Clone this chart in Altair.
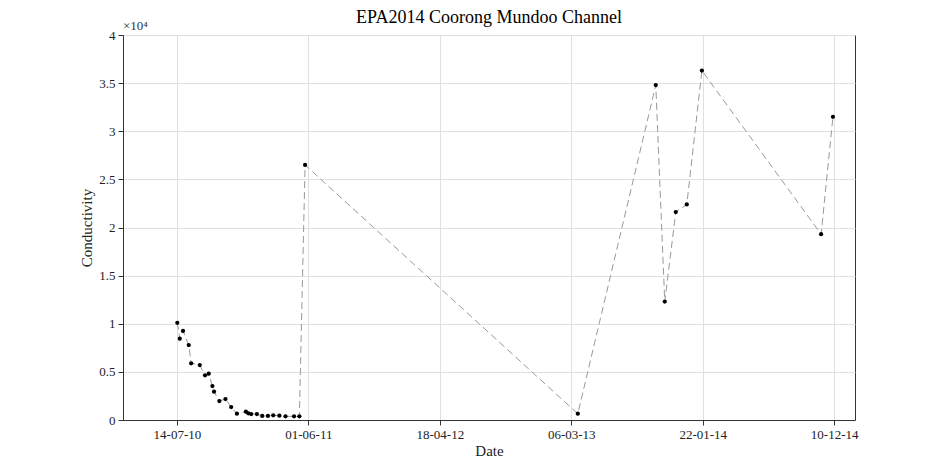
import pandas as pd
import altair as alt

dates = ['2010-07-15', '2010-07-21', '2010-07-29', '2010-08-12', '2010-08-18', '2010-09-08',
         '2010-09-21', '2010-09-30', '2010-10-09', '2010-10-13', '2010-10-26', '2010-11-10',
         '2010-11-24', '2010-12-08', '2010-12-30', '2011-01-05', '2011-01-12', '2011-01-26',
         '2011-02-08', '2011-02-22', '2011-03-07', '2011-03-22', '2011-04-06', '2011-04-27',
         '2011-05-10', '2011-05-24', '2013-03-22', '2013-09-29', '2013-10-21', '2013-11-17',
         '2013-12-14', '2014-01-20', '2014-11-08', '2014-12-07']
conductivity = [10100, 8450, 9250, 7790, 5890, 5710,
                4640, 4810, 3530, 2940, 1970, 2180,
                1350, 650, 860, 700, 620, 620,
                420, 420, 490, 450, 380, 380,
                380, 26500, 650, 34800, 12300, 21600,
                22400, 36300, 19300, 31500]
tick_dates = ['2010-07-14', '2011-06-01', '2012-04-18', '2013-03-06', '2014-01-22', '2014-12-10']

df = pd.DataFrame({'date': pd.to_datetime(dates), 'cond': conductivity})
serif = 'Liberation Serif'
ticks = [pd.Timestamp(t) for t in tick_dates]

x = alt.X('date:T', title='Date',
          scale=alt.Scale(domain=['2010-03-04', '2015-01-30']),
          axis=alt.Axis(values=[t.isoformat() for t in ticks], format='%d-%m-%y',
                        labelFlush=False, grid=True, titlePadding=2))
y = alt.Y('cond:Q', title='Conductivity',
          scale=alt.Scale(domain=[0, 40000], nice=False),
          axis=alt.Axis(values=list(range(0, 40001, 5000)),
                        labelExpr='datum.value / 10000', grid=True))

line = alt.Chart(df).mark_line(color='#999999', strokeDash=[7, 4], strokeWidth=1).encode(x=x, y=y)
points = alt.Chart(df).mark_circle(color='black', size=18, opacity=1).encode(x=x, y=y)
exp = alt.Chart(pd.DataFrame({'t': ['×10⁴']})).mark_text(
    font=serif, fontSize=13, align='left', baseline='bottom', color='#333333'
).encode(x=alt.value(0), y=alt.value(-2), text='t:N')
title = alt.Chart(pd.DataFrame({'t': ['EPA2014 Coorong Mundoo Channel']})).mark_text(
    font=serif, fontSize=18, align='center', baseline='bottom', color='black'
).encode(x=alt.value(366), y=alt.value(-8), text='t:N')

chart = alt.layer(line, points, exp, title).properties(
    width=732, height=385,
    autosize=alt.AutoSizeParams(type='none'),
    padding={'left': 115, 'top': 27, 'right': 82, 'bottom': 52},
).configure_axis(
    labelFont=serif, titleFont=serif, labelFontSize=13, titleFontSize=15,
    titleFontWeight='normal', labelColor='#222222', titleColor='#222222',
    gridColor='#e0e0e0', domainColor='#333333', tickColor='#333333',
    tickSize=5, labelPadding=3
).configure_view(stroke='#333333', strokeWidth=1)

chart.save("out.html", embed_options={"renderer": "svg", "actions": False})
